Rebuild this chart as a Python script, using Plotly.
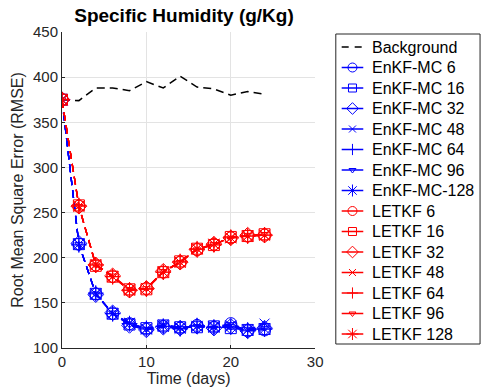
import plotly.graph_objects as go

days = [0, 2, 4, 6, 8, 10, 12, 14, 16, 18, 20, 22, 24]

background = [375, 374, 388, 388, 385, 395, 388, 401, 389, 387, 380, 384, 381]

enkf_labels = ["EnKF-MC 6", "EnKF-MC 16", "EnKF-MC 32", "EnKF-MC 48",
               "EnKF-MC 64", "EnKF-MC 96", "EnKF-MC-128"]
enkf_values = [
    [375, 215, 160, 138, 127, 121, 124, 122, 125, 123, 127, 119, 120],
    [375, 215, 160, 138, 126, 122, 125, 123, 123, 124, 122, 120, 121],
    [375, 216, 159, 139, 125, 120, 123, 122, 124, 122, 124, 119, 122],
    [375, 215, 160, 138, 128, 121, 126, 123, 124, 124, 125, 120, 127],
    [375, 214, 161, 138, 127, 122, 124, 121, 125, 123, 123, 119, 121],
    [375, 215, 160, 139, 126, 121, 125, 122, 124, 122, 124, 121, 122],
    [375, 215, 160, 138, 127, 121, 124, 122, 124, 123, 124, 120, 121],
]

letkf_labels = ["LETKF 6", "LETKF 16", "LETKF 32", "LETKF 48",
                "LETKF 64", "LETKF 96", "LETKF 128"]
letkf_values = [
    [375, 257, 192, 179, 164, 166, 184, 195, 209, 215, 222, 224, 225],
    [375, 258, 191, 179, 165, 165, 184, 196, 210, 214, 223, 224, 226],
    [375, 257, 192, 180, 164, 166, 185, 195, 209, 215, 222, 225, 225],
    [375, 257, 193, 179, 165, 166, 184, 195, 210, 215, 222, 224, 225],
    [375, 258, 192, 179, 164, 165, 184, 196, 209, 214, 223, 224, 225],
    [375, 257, 192, 180, 165, 166, 185, 195, 209, 215, 222, 225, 226],
    [375, 257, 192, 179, 164, 166, 184, 195, 210, 215, 222, 224, 225],
]

x_ticks = [0, 10, 20, 30]
y_ticks = [100, 150, 200, 250, 300, 350, 400, 450]

# marker styles shared by the two ensemble families (plot size, key size)
symbols = ["circle-open", "square-open", "diamond-open", "x-thin-open",
           "cross-thin-open", "triangle-down-open", "asterisk-open"]
plot_sizes = [12, 11, 12, 10, 11, 7, 13]
key_sizes = [9, 8, 9, 7, 8, 6, 10]

BLUE, RED = "#0000ff", "#ff0000"
DASH = "8px,5px"
FONT = "Liberation Sans, Arial, Helvetica, sans-serif"

W, H = 491, 392
L, R, T, B = 62, 0, 32, 44
PLOT_RIGHT = 320                      # right edge of the data area in px
main_frac = (PLOT_RIGHT - L) / (W - L - R)

fig = go.Figure()

# ---- data traces ----
fig.add_trace(go.Scatter(
    x=days, y=background, mode="lines", showlegend=False,
    line=dict(color="black", width=1.5, dash=DASH),
))
for color, values in ((BLUE, enkf_values), (RED, letkf_values)):
    for vals, sym, sz in zip(values, symbols, plot_sizes):
        fig.add_trace(go.Scatter(
            x=days, y=vals, mode="lines+markers", showlegend=False,
            line=dict(color=color, width=1.3, dash=DASH),
            marker=dict(symbol=sym, size=sz, color=color,
                        line=dict(color=color, width=1)),
        ))

# ---- key drawn on a pixel-scaled overlay axis ----
key_entries = [("Background", "black", None, 0)]
key_entries += [(lab, BLUE, sym, ks) for lab, sym, ks in zip(enkf_labels, symbols, key_sizes)]
key_entries += [(lab, RED, sym, ks) for lab, sym, ks in zip(letkf_labels, symbols, key_sizes)]

KEY_X0, KEY_X1, KEY_Y0, KEY_Y1 = 341, 488, 34, 344
ROW0, ROW_STEP = 47, 20.5
SEG_X0, SEG_X1, TEXT_X = 347, 369, 376

fig.add_shape(type="rect", xref="x2", yref="y2",
              x0=KEY_X0, x1=KEY_X1, y0=KEY_Y0, y1=KEY_Y1,
              line=dict(color="#262626", width=1), fillcolor="white", layer="below")

for i, (label, color, sym, ks) in enumerate(key_entries):
    ry = ROW0 + i * ROW_STEP
    if sym is None:
        fig.add_trace(go.Scatter(
            x=[SEG_X0, SEG_X1], y=[ry, ry], xaxis="x2", yaxis="y2",
            mode="lines", showlegend=False, hoverinfo="skip",
            line=dict(color=color, width=1.5, dash="7px,6px"),
        ))
    else:
        fig.add_trace(go.Scatter(
            x=[SEG_X0, SEG_X1], y=[ry, ry], xaxis="x2", yaxis="y2",
            mode="lines", showlegend=False, hoverinfo="skip",
            line=dict(color=color, width=1.3),
        ))
        fig.add_trace(go.Scatter(
            x=[(SEG_X0 + SEG_X1) / 2], y=[ry], xaxis="x2", yaxis="y2",
            mode="markers", showlegend=False, hoverinfo="skip",
            marker=dict(symbol=sym, size=ks, color=color,
                        line=dict(color=color, width=1)),
        ))
    fig.add_annotation(
        x=TEXT_X, y=ry, xref="x2", yref="y2", text=label, showarrow=False,
        xanchor="left", yanchor="middle",
        font=dict(family=FONT, size=16, color="black"),
    )

fig.update_layout(
    width=W, height=H,
    margin=dict(l=L, r=R, t=T, b=B),
    paper_bgcolor="white", plot_bgcolor="white",
    font=dict(family=FONT, size=15, color="#262626"),
    showlegend=False,
    title=dict(text="<b>Specific Humidity (g/Kg)</b>",
               xref="container", x=184 / W, xanchor="center",
               yref="container", y=1 - 15 / H, yanchor="middle",
               font=dict(family=FONT, size=19, color="black")),
    xaxis=dict(
        domain=[0, main_frac], range=[0, 30], tickvals=x_ticks,
        showgrid=True, gridcolor="#e3e3e3", gridwidth=1,
        showline=True, linecolor="#262626", linewidth=1,
        ticks="inside", ticklen=3, tickcolor="#262626", zeroline=False,
        tickfont=dict(size=15),
        title=dict(text="Time (days)", standoff=3, font=dict(size=16)),
    ),
    yaxis=dict(
        range=[100, 450], tickvals=y_ticks,
        showgrid=True, gridcolor="#e3e3e3", gridwidth=1,
        showline=True, linecolor="#262626", linewidth=1,
        ticks="inside", ticklen=3, tickcolor="#262626", zeroline=False,
        tickfont=dict(size=15),
        title=dict(text="Root Mean Square Error (RMSE)", standoff=5, font=dict(size=16)),
    ),
    xaxis2=dict(domain=[main_frac, 1], range=[PLOT_RIGHT, W - R],
                visible=False, fixedrange=True),
    yaxis2=dict(domain=[0, 1], range=[H - B, T], anchor="x2",
                visible=False, fixedrange=True),
)

fig.write_html("out.html")
